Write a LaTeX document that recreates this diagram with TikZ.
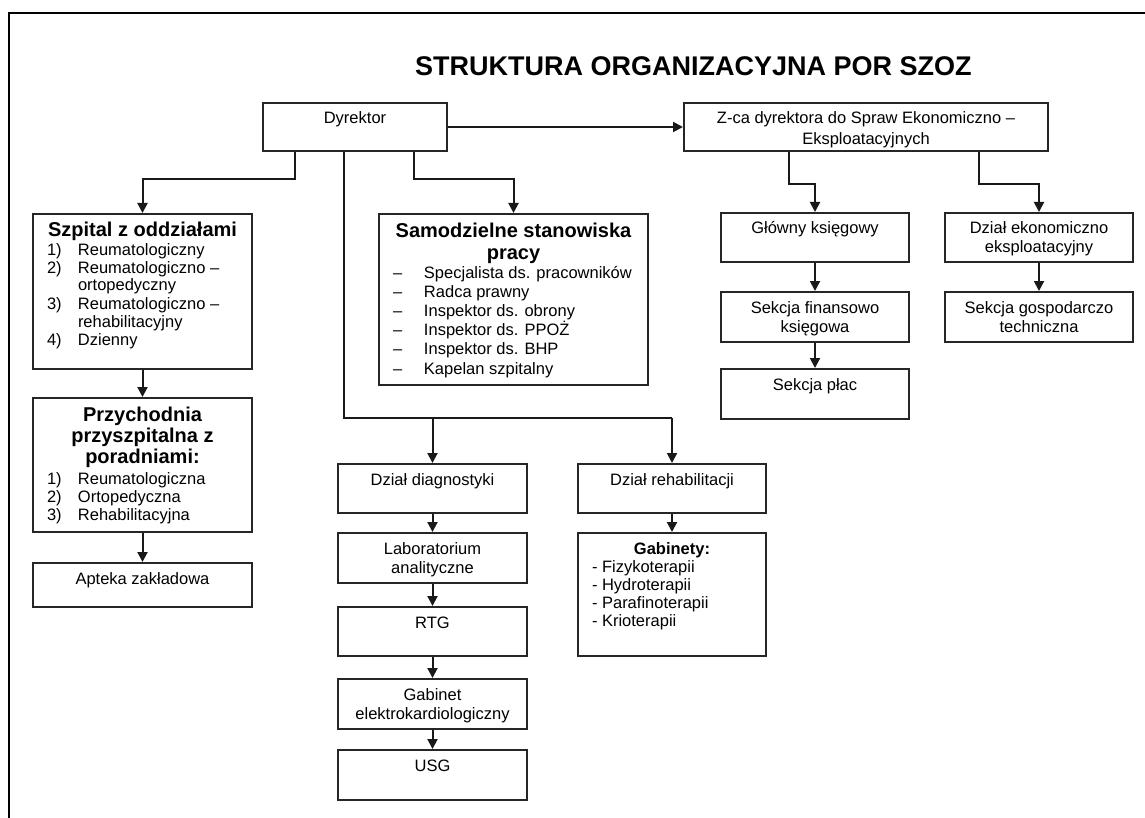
\documentclass[tikz,border=0pt]{standalone}
\usepackage{fontspec}
\setmainfont{Liberation Sans}
\usetikzlibrary{arrows.meta}
\newcommand\bxin[3]{\parbox[t][#2pt][t]{#1pt}{\fontsize{16.5}{19}\selectfont #3}}
\newcommand\fl{\rule{0pt}{21pt}}
\newcommand\itm[2]{\par\hspace*{14pt}\makebox[31pt][l]{#1}#2}
\newcommand\cnt[1]{\par\hspace*{45pt}#1}
\begin{document}
\begin{tikzpicture}[x=1pt,y=-1pt,
  bx/.style={draw=black!85, line width=2pt, inner sep=0pt, anchor=north west},
  ln/.style={line width=2pt, draw=black!90},
  arr/.style={ln, -{Triangle[length=10pt,width=10pt]}}]
\useasboundingbox (0,0) rectangle (1145,818);
\draw[line width=2.8pt] (9,818) -- (9,13) -- (1145,13);

\node[anchor=base west, font=\bfseries\fontsize{27}{30}\selectfont, inner sep=0pt] (title) at (415,76) {STRUKTURA ORGANIZACYJNA POR SZOZ};

\node[bx] (dyr) at (262,102) {\bxin{184}{48}{\centering\fl Dyrektor}};
\node[bx] (zca) at (683,102) {\bxin{364}{48}{\centering\baselineskip=21pt\fl Z-ca dyrektora do Spraw Ekonomiczno –\\Eksploatacyjnych}};

\node[bx] (szp) at (32,213) {\bxin{219}{155}{\centering\bfseries\fontsize{20}{21}\selectfont\rule{0pt}{23pt}Szpital z oddziałami\par
  \raggedright\normalfont\fontsize{16.5}{18}\selectfont
  \itm{1)}{Reumatologiczny}\itm{2)}{Reumatologiczno –}\cnt{ortopedyczny}\itm{3)}{Reumatologiczno –}\cnt{rehabilitacyjny}\itm{4)}{Dzienny}}};

\node[bx] (przy) at (32,397) {\bxin{219}{134}{\centering\bfseries\fontsize{20}{21}\selectfont\rule{0pt}{23pt}Przychodnia\\przyszpitalna z\\poradniami:\par
  \vspace{3pt}\raggedright\normalfont\fontsize{16.5}{18}\selectfont
  \itm{1)}{Reumatologiczna}\itm{2)}{Ortopedyczna}\itm{3)}{Rehabilitacyjna}}};

\node[bx] (apt) at (32,562) {\bxin{219}{44}{\centering\fl Apteka zakładowa}};

\node[bx] (sam) at (378,213) {\bxin{269}{171}{\centering\bfseries\fontsize{20}{22}\selectfont\rule{0pt}{24pt}Samodzielne stanowiska\\pracy\par
  \raggedright\normalfont\fontsize{16.5}{19}\selectfont
  \itm{–}{Specjalista ds. pracowników}\itm{–}{Radca prawny}\itm{–}{Inspektor ds. obrony}\itm{–}{Inspektor ds. PPOŻ}\itm{–}{Inspektor ds. BHP}\itm{–}{Kapelan szpitalny}}};

\node[bx] (diag) at (337,463) {\bxin{189}{49}{\centering\fl Dział diagnostyki}};
\node[bx] (lab) at (337,532) {\bxin{189}{50}{\centering\fl Laboratorium\\analityczne}};
\node[bx] (rtg) at (337,606) {\bxin{189}{49}{\centering\fl RTG}};
\node[bx] (ekg) at (337,678) {\bxin{189}{50}{\centering\fl Gabinet\\elektrokardiologiczny}};
\node[bx] (usg) at (337,749) {\bxin{189}{50}{\centering\fl USG}};

\node[bx] (rehab) at (577,463) {\bxin{188}{49}{\centering\fl Dział rehabilitacji}};
\node[bx] (gab) at (577,532) {\bxin{188}{123}{\centering\bfseries\fl Gabinety:\par
  \raggedright\normalfont\fontsize{16.5}{18}\selectfont
  \par\hspace*{14pt}- Fizykoterapii\par\hspace*{14pt}- Hydroterapii\par\hspace*{14pt}- Parafinoterapii\par\hspace*{14pt}- Krioterapii}};

\node[bx] (glow) at (720,212) {\bxin{188}{49}{\centering\fl Główny księgowy}};
\node[bx] (sfk) at (720,291) {\bxin{188}{50}{\centering\fl Sekcja finansowo\\księgowa}};
\node[bx] (splac) at (720,368) {\bxin{188}{50}{\centering\fl Sekcja płac}};
\node[bx] (dzek) at (944,212) {\bxin{188}{49}{\centering\fl Dział ekonomiczno\\eksploatacyjny}};
\node[bx] (sgt) at (944,291) {\bxin{188}{50}{\centering\fl Sekcja gospodarczo\\techniczna}};

% connectors
\draw[arr] (dyr.east) -- (zca.west);
\draw[arr] ([xshift=33pt]dyr.south west) -- ++(0,27) -| (szp.north);
\draw[arr] ([xshift=152pt]dyr.south west) -- ++(0,27) -| (sam.north);
\coordinate (bus) at (344,418);
\draw[ln] ([xshift=82pt]dyr.south west) -- (bus) -- (bus -| rehab.north);
\draw[arr] (bus -| diag.north) -- (diag.north);
\draw[arr] (bus -| rehab.north) -- (rehab.north);

\draw[arr] (szp.south) -- (przy.north);
\draw[arr] (przy.south) -- (apt.north);

\draw[arr] (diag.south) -- (lab.north);
\draw[arr] (lab.south) -- (rtg.north);
\draw[arr] (rtg.south) -- (ekg.north);
\draw[arr] (ekg.south) -- (usg.north);
\draw[arr] (rehab.south) -- (gab.north);

\draw[arr] ([xshift=106pt]zca.south west) -- ++(0,32) -| (glow.north);
\draw[arr] ([xshift=296pt]zca.south west) -- ++(0,32) -| (dzek.north);
\draw[arr] (glow.south) -- (sfk.north);
\draw[arr] (sfk.south) -- (splac.north);
\draw[arr] (dzek.south) -- (sgt.north);
\end{tikzpicture}
\end{document}
